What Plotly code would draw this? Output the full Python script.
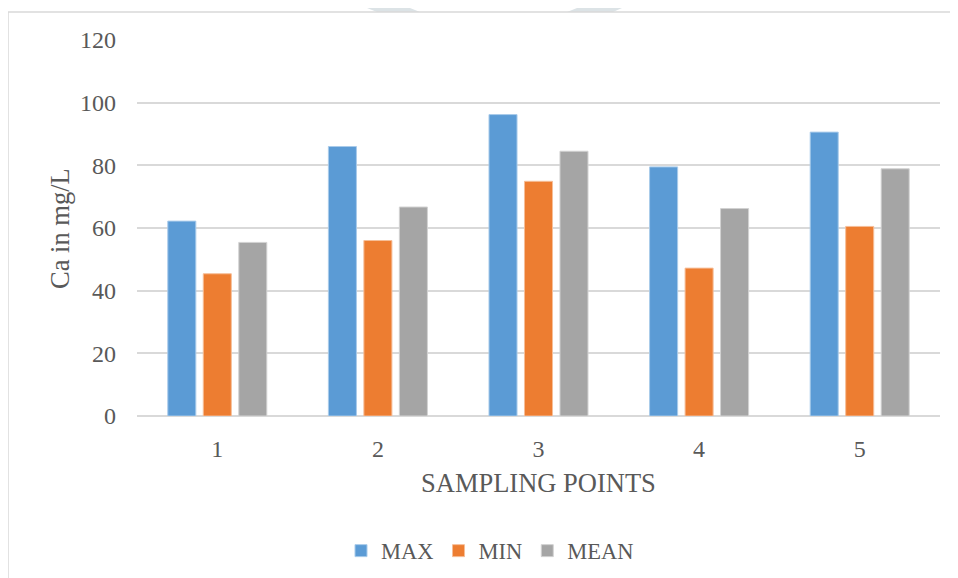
import plotly.graph_objects as go

categories = ["1", "2", "3", "4", "5"]
max_vals = [62.2, 86.0, 96.2, 79.5, 90.6]
min_vals = [45.4, 56.0, 74.9, 47.2, 60.5]
mean_vals = [55.4, 66.7, 84.5, 66.2, 78.9]
y_ticks = [0, 20, 40, 60, 80, 100, 120]

FONT = "Liberation Serif"
TXT = "#595959"

fig = go.Figure()
fig.add_trace(go.Bar(name="MAX", x=categories, y=max_vals,
                     marker=dict(color="#5B9BD5", line=dict(color="#A9CBEA", width=1))))
fig.add_trace(go.Bar(name="MIN", x=categories, y=min_vals,
                     marker=dict(color="#ED7D31", line=dict(color="#F6BE98", width=1))))
fig.add_trace(go.Bar(name="MEAN", x=categories, y=mean_vals,
                     marker=dict(color="#A5A5A5", line=dict(color="#D2D2D2", width=1))))

# page body has an 8px margin; work in screenshot pixel coordinates
OFF = 8
W, H = 958 - OFF, 578 - OFF
L, T = 137 - OFF, 40 - OFF
R = 958 - 940
B = 578 - 416
pw, ph = W - L - R, H - T - B

def px(x):
    return (x - OFF - L) / pw

def py(y):
    return (H - B - (y - OFF)) / ph

def path(pts):
    return "M " + " L ".join(f"{px(x)},{py(y)}" for x, y in pts) + " Z"

WM = "#DCE3E6"

fig.update_layout(
    width=W, height=H,
    margin=dict(l=L, r=R, t=T, b=B, pad=0, autoexpand=False),
    paper_bgcolor="white", plot_bgcolor="white",
    barmode="group", bargap=0.337, bargroupgap=0.21,
    font=dict(family=FONT, color=TXT, size=22),
    showlegend=True,
    legend=dict(orientation="h", x=px(490), xanchor="center", y=py(551), yanchor="middle",
                font=dict(family=FONT, size=22.5, color=TXT), itemwidth=30,
                bgcolor="rgba(0,0,0,0)"),
    xaxis=dict(showgrid=False, showline=False, zeroline=False, ticks="",
               tickfont=dict(family=FONT, size=24, color=TXT), ticklabelstandoff=16),
    yaxis=dict(range=[0, 120], tickvals=y_ticks, showgrid=True, gridcolor="#D9D9D9", gridwidth=1.5,
               zeroline=True, zerolinecolor="#D9D9D9", zerolinewidth=1.5, showline=False, ticks="",
               tickfont=dict(family=FONT, size=24, color=TXT), ticklabelstandoff=20),
    annotations=[
        dict(text="Ca in mg/L", x=px(60), y=py(229), xref="paper", yref="paper",
             showarrow=False, textangle=-90, xanchor="center", yanchor="middle",
             font=dict(family=FONT, size=26.5, color=TXT)),
        dict(text="SAMPLING POINTS", x=px(538), y=py(483), xref="paper", yref="paper",
             showarrow=False, xanchor="center", yanchor="middle",
             font=dict(family=FONT, size=26.5, color=TXT)),
    ],
    shapes=[
        dict(type="path", xref="paper", yref="paper",
             path=path([(347, 0), (390, 0), (420, 12), (377, 12)]),
             line=dict(width=0), fillcolor=WM, layer="below"),
        dict(type="path", xref="paper", yref="paper",
             path=path([(597, 0), (640, 0), (613, 12), (567, 12)]),
             line=dict(width=0), fillcolor=WM, layer="below"),
        dict(type="rect", xref="paper", yref="paper", x0=px(8), x1=px(975), y0=py(600), y1=py(12),
             line=dict(color="#D9D9D9", width=1.5), fillcolor="white", layer="below"),
    ],
)

fig.write_html("out.html")
